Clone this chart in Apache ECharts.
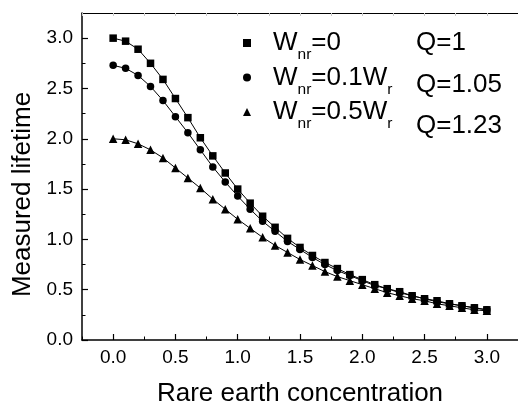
<!DOCTYPE html>
<html>
<head>
<meta charset="utf-8">
<script src="https://cdn.jsdelivr.net/npm/echarts@6/dist/echarts.min.js"></script>
<style>
  html, body { margin: 0; padding: 0; background: #fff; }
  #chart { width: 518px; height: 412px; }
</style>
</head>
<body>
<div id="chart"></div>
<script>
// Rare earth concentration (x) for every sampled point
const concentration = [
  0.0, 0.1, 0.2, 0.3, 0.4, 0.5, 0.6, 0.7, 0.8, 0.9,
  1.0, 1.1, 1.2, 1.3, 1.4, 1.5, 1.6, 1.7, 1.8, 1.9,
  2.0, 2.1, 2.2, 2.3, 2.4, 2.5, 2.6, 2.7, 2.8, 2.9, 3.0
];

// Measured lifetime, W_nr = 0 (Q = 1)
const lifetimeQ100 = [
  3.00, 2.97, 2.89, 2.75, 2.59, 2.40, 2.21, 2.01, 1.83, 1.66,
  1.50, 1.36, 1.23, 1.12, 1.01, 0.92, 0.84, 0.77, 0.71, 0.65,
  0.60, 0.55, 0.51, 0.48, 0.44, 0.41, 0.39, 0.36, 0.34, 0.32, 0.30
];

// Measured lifetime, W_nr = 0.1 W_r (Q = 1.05)
const lifetimeQ105 = [
  2.73, 2.70, 2.63, 2.52, 2.38, 2.22, 2.06, 1.89, 1.72, 1.57,
  1.43, 1.30, 1.18, 1.08, 0.98, 0.90, 0.82, 0.75, 0.69, 0.64,
  0.59, 0.54, 0.51, 0.47, 0.44, 0.41, 0.38, 0.36, 0.34, 0.32, 0.30
];

// Measured lifetime, W_nr = 0.5 W_r (Q = 1.23)
const lifetimeQ123 = [
  2.00, 1.99, 1.95, 1.89, 1.81, 1.71, 1.61, 1.51, 1.40, 1.30,
  1.20, 1.11, 1.02, 0.94, 0.87, 0.80, 0.74, 0.68, 0.63, 0.59,
  0.55, 0.51, 0.47, 0.44, 0.41, 0.39, 0.36, 0.34, 0.32, 0.30, 0.29
];

// Axis ticks
const xMajorTicks = [0.0, 0.5, 1.0, 1.5, 2.0, 2.5, 3.0];
const xMinorTicks = [-0.25, 0.25, 0.75, 1.25, 1.75, 2.25, 2.75, 3.25];
const yMajorTicks = [0.0, 0.5, 1.0, 1.5, 2.0, 2.5, 3.0];
const yMinorTicks = [0.25, 0.75, 1.25, 1.75, 2.25, 2.75];

// Legend text: alternating normal / subscript pieces, plus the Q column
const legendNames = ['Wnr=0', 'Wnr=0.1Wr', 'Wnr=0.5Wr'];
const legendParts = [
  ['W', 'nr', '=0'],
  ['W', 'nr', '=0.1W', 'r'],
  ['W', 'nr', '=0.5W', 'r']
];
const qLabels = ['Q=1', 'Q=1.05', 'Q=1.23'];
const symbols = ['rect', 'circle', 'triangle'];
const symbolSizes = [7.5, 7.5, 8.5];
const seriesValues = [lifetimeQ100, lifetimeQ105, lifetimeQ123];

const FONT = 'Arial, "Liberation Sans", sans-serif';
const INK = '#000';

const LEGEND_TOP = 25;
const LEGEND_ROW = 40;
const LEGEND_GAP = 1.5;

function pairs(ys) {
  return concentration.map((x, i) => [x, ys[i]]);
}

const series = seriesValues.map((ys, i) => ({
  name: legendNames[i],
  type: 'line',
  data: pairs(ys),
  symbol: symbols[i],
  symbolSize: symbolSizes[i],
  showAllSymbol: true,
  lineStyle: { color: INK, width: 1 },
  itemStyle: { color: INK },
  emphasis: { disabled: true },
  animation: false,
  z: 3
}));

const legendRich = {
  w: { fontFamily: FONT, fontSize: 26, color: INK, lineHeight: LEGEND_ROW, padding: [0, 0, 0, 17] },
  a: { fontFamily: FONT, fontSize: 26, color: INK, lineHeight: LEGEND_ROW },
  s: { fontFamily: FONT, fontSize: 15.5, color: INK, lineHeight: 15, verticalAlign: 'bottom' }
};

function legendText(name) {
  const parts = legendParts[legendNames.indexOf(name)];
  return parts.map((p, k) => {
    const style = k === 0 ? 'w' : (k % 2 === 1 ? 's' : 'a');
    return '{' + style + '|' + p + '}';
  }).join('');
}

const axisLabelStyle = { fontFamily: FONT, fontSize: 19, color: INK };

const option = {
  backgroundColor: '#fff',
  animation: false,
  grid: { left: 82, top: 13, right: -13, bottom: 62, containLabel: false },
  legend: {
    orient: 'vertical',
    left: 238,
    top: LEGEND_TOP,
    itemWidth: 8,
    itemHeight: 8,
    itemGap: LEGEND_GAP,
    selectedMode: false,
    data: legendNames.map((n, i) => ({ name: n, icon: symbols[i], itemStyle: { color: INK } })),
    formatter: legendText,
    textStyle: { rich: legendRich }
  },
  graphic: qLabels.map((q, i) => ({
    type: 'text',
    left: 416,
    top: LEGEND_TOP + i * (LEGEND_ROW + LEGEND_GAP) + LEGEND_ROW / 2 - 15,
    style: { text: q, fontFamily: FONT, fontSize: 26, fill: INK }
  })),
  xAxis: [
    {
      type: 'value', position: 'bottom', min: -0.25, max: 3.25,
      name: 'Rare earth concentration', nameLocation: 'middle', nameGap: 41,
      nameTextStyle: { fontFamily: FONT, fontSize: 26, color: INK },
      axisLine: { onZero: false, lineStyle: { color: INK, width: 1.5 } },
      axisTick: { inside: true, length: 6, customValues: xMajorTicks, lineStyle: { color: INK, width: 1.2 } },
      axisLabel: { customValues: xMajorTicks, margin: 8, formatter: v => v.toFixed(1), ...axisLabelStyle },
      splitLine: { show: false }
    },
    {
      type: 'value', position: 'bottom', min: -0.25, max: 3.25,
      axisLine: { show: false, onZero: false },
      axisTick: { inside: true, length: 3.5, customValues: xMinorTicks, lineStyle: { color: INK } },
      axisLabel: { show: false },
      splitLine: { show: false }
    },
    {
      type: 'value', position: 'top', min: -0.25, max: 3.25,
      axisLine: { onZero: false, lineStyle: { color: INK, width: 1.2 } },
      axisTick: { inside: true, length: 3, customValues: xMajorTicks.concat(xMinorTicks), lineStyle: { color: '#c8c8c8' } },
      axisLabel: { show: false },
      splitLine: { show: false }
    }
  ],
  yAxis: [
    {
      type: 'value', position: 'left', min: 0, max: 3.25,
      name: 'Measured lifetime', nameLocation: 'middle', nameGap: 46,
      nameTextStyle: { fontFamily: FONT, fontSize: 26, color: INK, padding: [0, 36, 0, 0] },
      axisLine: { onZero: false, lineStyle: { color: INK, width: 1.5 } },
      axisTick: { inside: true, length: 6, customValues: yMajorTicks, lineStyle: { color: INK, width: 1.2 } },
      axisLabel: { customValues: yMajorTicks, margin: 9, formatter: v => v.toFixed(1), ...axisLabelStyle },
      splitLine: { show: false }
    },
    {
      type: 'value', position: 'left', min: 0, max: 3.25,
      axisLine: { show: false, onZero: false },
      axisTick: { inside: true, length: 3.5, customValues: yMinorTicks, lineStyle: { color: INK } },
      axisLabel: { show: false },
      splitLine: { show: false }
    }
  ],
  series: series
};

const chart = echarts.init(document.getElementById('chart'), null, { renderer: 'canvas' });
chart.setOption(option);
</script>
</body>
</html>
